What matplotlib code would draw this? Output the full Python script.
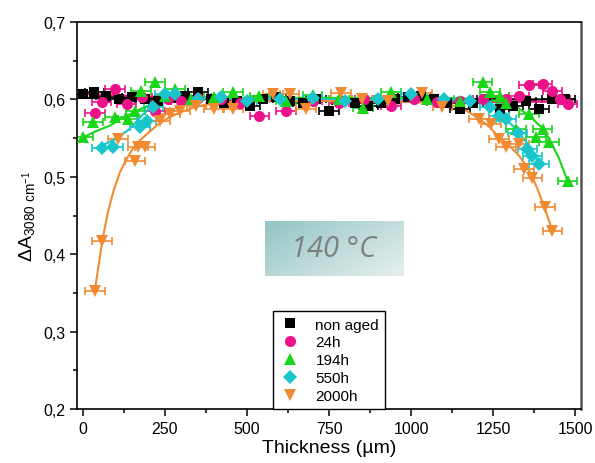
import numpy as np
import matplotlib
matplotlib.use("Agg")
import matplotlib.pyplot as plt
from matplotlib.ticker import MultipleLocator, AutoMinorLocator

plt.rcParams['font.family'] = ['Liberation Sans', 'DejaVu Sans']
plt.rcParams['mathtext.fontset'] = 'custom'
plt.rcParams['mathtext.rm'] = 'Liberation Sans'
plt.rcParams['mathtext.it'] = 'Liberation Sans:italic'

# --- measured points (thickness in µm, absorbance) ---
x_ref = [0, 35, 70, 110, 150, 190, 230, 270, 310, 350, 390, 430, 470, 510, 550,
         590, 630, 670, 710, 750, 790, 830, 870, 910, 950, 990, 1030, 1070, 1110,
         1150, 1190, 1230, 1270, 1310, 1350, 1390, 1430, 1470]
y_ref = [0.607, 0.609, 0.605, 0.601, 0.603, 0.600, 0.598, 0.602, 0.604, 0.609,
         0.600, 0.596, 0.598, 0.592, 0.600, 0.603, 0.598, 0.596, 0.600, 0.585,
         0.598, 0.596, 0.592, 0.595, 0.600, 0.603, 0.605, 0.600, 0.596, 0.588,
         0.595, 0.600, 0.588, 0.592, 0.598, 0.588, 0.600, 0.600]

x_24 = [36, 57, 97, 133, 180, 219, 260, 300, 350, 420, 480, 538, 620, 700, 780,
        858, 939, 1010, 1080, 1150, 1220, 1290, 1330, 1360, 1401, 1431, 1455, 1477]
y_24 = [0.583, 0.597, 0.614, 0.594, 0.603, 0.585, 0.600, 0.598, 0.602, 0.600,
        0.596, 0.579, 0.585, 0.598, 0.596, 0.601, 0.592, 0.600, 0.597, 0.598,
        0.600, 0.600, 0.605, 0.618, 0.620, 0.611, 0.600, 0.594]

x_194 = [1, 31, 97, 138, 160, 178, 219, 250, 280, 330, 400, 457, 538, 620, 700,
         780, 853, 939, 1050, 1150, 1218, 1240, 1270, 1290, 1319, 1360, 1380,
         1401, 1421, 1477]
y_194 = [0.551, 0.571, 0.577, 0.575, 0.585, 0.611, 0.622, 0.605, 0.614, 0.600,
         0.603, 0.610, 0.604, 0.598, 0.606, 0.600, 0.589, 0.610, 0.600, 0.598,
         0.623, 0.610, 0.605, 0.596, 0.562, 0.581, 0.551, 0.562, 0.545, 0.495]

x_550 = [57, 92, 173, 194, 215, 249, 280, 350, 420, 500, 600, 700, 800, 900,
         1000, 1100, 1180, 1240, 1269, 1290, 1325, 1355, 1370, 1390]
y_550 = [0.537, 0.538, 0.564, 0.572, 0.590, 0.607, 0.607, 0.600, 0.603, 0.598,
         0.600, 0.602, 0.598, 0.600, 0.607, 0.600, 0.598, 0.590, 0.579, 0.575,
         0.557, 0.536, 0.527, 0.517]

x_2000 = [37, 59, 107, 158, 168, 189, 234, 265, 295, 346, 400, 457, 579, 630,
          680, 787, 850, 930, 1035, 1096, 1208, 1243, 1269, 1289, 1330, 1345,
          1370, 1409, 1431]
y_2000 = [0.352, 0.417, 0.549, 0.521, 0.538, 0.539, 0.572, 0.581, 0.585, 0.592,
          0.588, 0.588, 0.607, 0.607, 0.588, 0.608, 0.600, 0.598, 0.608, 0.590,
          0.575, 0.568, 0.549, 0.538, 0.542, 0.510, 0.499, 0.461, 0.430]

x_err = 30

# --- fitted profiles ---
fx_ref = [0, 250, 500, 750, 1000, 1250, 1500]
fy_ref = [0.602, 0.601, 0.600, 0.600, 0.600, 0.600, 0.600]
fx_24 = [0, 250, 500, 750, 1000, 1250, 1490]
fy_24 = [0.607, 0.603, 0.600, 0.598, 0.597, 0.597, 0.597]
fx_194 = [1, 40, 82, 120, 163, 200, 234, 300, 500, 800, 1100, 1230, 1289, 1330,
          1360, 1395, 1421, 1450, 1477]
fy_194 = [0.551, 0.559, 0.566, 0.576, 0.585, 0.592, 0.598, 0.601, 0.602, 0.602,
          0.602, 0.600, 0.596, 0.588, 0.579, 0.565, 0.549, 0.525, 0.495]
fx_550 = [57, 100, 143, 184, 224, 265, 330, 500, 800, 1100, 1180, 1228, 1269,
          1319, 1360, 1390]
fy_550 = [0.540, 0.549, 0.562, 0.581, 0.596, 0.601, 0.602, 0.601, 0.600, 0.600,
          0.599, 0.596, 0.583, 0.562, 0.540, 0.519]
fx_2000 = [36, 59, 75, 92, 112, 133, 153, 173, 200, 224, 260, 295, 340, 386,
           450, 600, 800, 1000, 1070, 1127, 1170, 1208, 1240, 1269, 1300, 1330,
           1350, 1370, 1385, 1401, 1416, 1431]
fy_2000 = [0.352, 0.417, 0.452, 0.480, 0.505, 0.523, 0.537, 0.547, 0.557, 0.566,
           0.576, 0.583, 0.590, 0.594, 0.597, 0.598, 0.598, 0.597, 0.595, 0.592,
           0.585, 0.575, 0.564, 0.551, 0.540, 0.527, 0.515, 0.499, 0.485, 0.467,
           0.449, 0.430]

series = [
    ("non aged", x_ref, y_ref, fx_ref, fy_ref, "black", "s", 7),
    ("24h", x_24, y_24, fx_24, fy_24, "#ec1289", "o", 8),
    ("194h", x_194, y_194, fx_194, fy_194, "#19d619", "^", 8.5),
    ("550h", x_550, y_550, fx_550, fy_550, "#18c6cc", "D", 7),
    ("2000h", x_2000, y_2000, fx_2000, fy_2000, "#f28a32", "v", 8.5),
]

fig = plt.figure(figsize=(5.95, 4.64), dpi=100)
ax = fig.add_axes([0.1294, 0.1164, 0.847, 0.834])

handles = []
for label, xs, ys, fx, fy, color, marker, ms in series:
    ax.errorbar(xs, ys, xerr=x_err, fmt="none", ecolor=color, elinewidth=1.2,
                capsize=3, capthick=1.2, zorder=2)
    ax.plot(fx, fy, "-", color=color, lw=1.5, zorder=3)
    h, = ax.plot(xs, ys, linestyle="none", marker=marker, color=color,
                 markersize=ms, markeredgewidth=0, zorder=4, label=label)
    handles.append(h)

# 140 °C tag with a diagonal teal gradient (dark top-left, light bottom-right)
gx, gy = np.meshgrid(np.linspace(0, 1, 64), np.linspace(0, 1, 32))
grad = gx * 0.6 + gy * 0.4
c0 = np.array([0.58, 0.77, 0.77])
c1 = np.array([0.90, 0.94, 0.93])
img = c0 + grad[..., None] * (c1 - c0)
ax.imshow(img, extent=(554, 977, 0.372, 0.443), aspect="auto",
          origin="upper", zorder=1)
ax.text(765, 0.4075, "140 °C", fontsize=21, style="italic", color="#7f7f7f",
        ha="center", va="center", family=["Open Sans", "DejaVu Sans"], zorder=2)

ax.set_xlim(-18, 1518)
ax.set_ylim(0.2, 0.7)
ax.xaxis.set_major_locator(MultipleLocator(250))
ax.xaxis.set_minor_locator(AutoMinorLocator(2))
ax.yaxis.set_major_locator(MultipleLocator(0.1))
ax.yaxis.set_minor_locator(AutoMinorLocator(2))
ax.set_yticks([0.2, 0.3, 0.4, 0.5, 0.6, 0.7])
ax.set_yticklabels(["0,2", "0,3", "0,4", "0,5", "0,6", "0,7"])
ax.tick_params(which="major", direction="out", length=5, width=1.1, labelsize=11.5,
               top=False, right=False)
ax.tick_params(which="minor", direction="out", length=3, width=1.1,
               top=False, right=False)
for side in ["left", "bottom", "top"]:
    ax.spines[side].set_linewidth(1.2)
ax.spines["right"].set_linewidth(1.8)
ax.spines["right"].set_color("#555555")

ax.set_xlabel("Thickness (µm)", fontsize=14, labelpad=2)
ax.set_ylabel(r"$\Delta\mathrm{A}_{\mathrm{3080\ cm^{-1}}}$", fontsize=14, labelpad=4)

leg = ax.legend(handles=handles, loc="lower center", bbox_to_anchor=(0.5, 0.0),
                borderaxespad=0, fancybox=False, edgecolor="black", fontsize=11,
                handlelength=1.5, handletextpad=0.9, labelspacing=0.25,
                borderpad=0.4)
leg.get_frame().set_linewidth(1.0)
leg.get_frame().set_alpha(1)

fig.savefig("out.png", dpi=100)
